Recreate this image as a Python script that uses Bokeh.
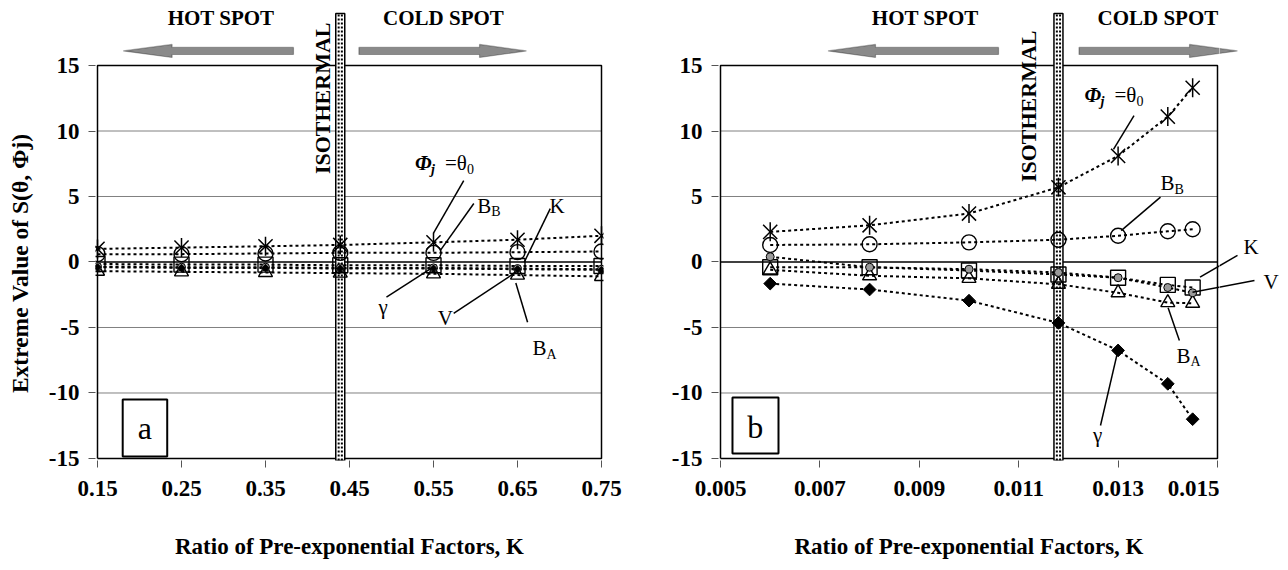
import numpy as np
from bokeh.plotting import figure
from bokeh.layouts import row
from bokeh.models import Range1d, FixedTicker, NumeralTickFormatter, Label, PolyAnnotation, Arrow
from bokeh.embed import file_html
from bokeh.resources import INLINE

# ---------------- data ----------------
y_ticks = [-15, -10, -5, 0, 5, 10, 15]

left_ticks = [0.15, 0.25, 0.35, 0.45, 0.55, 0.65, 0.75]
left_k = [0.15, 0.25, 0.35, 0.439, 0.55, 0.65, 0.75]
left_phi = [1.0, 1.1, 1.2, 1.3, 1.5, 1.7, 2.0]
left_bb = [0.6, 0.6, 0.65, 0.7, 0.7, 0.75, 0.8]
left_kk = [-0.15, -0.2, -0.2, -0.25, -0.25, -0.3, -0.3]
left_v = [-0.35, -0.4, -0.4, -0.45, -0.45, -0.5, -0.55]
left_gamma = [-0.4, -0.45, -0.45, -0.5, -0.5, -0.55, -0.6]
left_ba = [-0.7, -0.75, -0.8, -0.85, -0.9, -1.0, -1.1]
left_iso = 0.439

right_ticks = [0.005, 0.007, 0.009, 0.011, 0.013, 0.015]
right_k = [0.006, 0.008, 0.010, 0.0118, 0.013, 0.014, 0.0145]
right_phi = [2.3, 2.8, 3.7, 5.7, 8.1, 11.1, 13.3]
right_bb = [1.3, 1.35, 1.5, 1.7, 2.0, 2.35, 2.5]
right_kk = [-0.4, -0.4, -0.65, -0.95, -1.2, -1.75, -1.95]
right_v = [0.4, -0.4, -0.55, -0.8, -1.2, -1.95, -2.35]
right_gamma = [-1.65, -2.1, -2.95, -4.65, -6.75, -9.3, -12.0]
right_ba = [-0.6, -1.05, -1.25, -1.7, -2.35, -3.1, -3.15]
right_iso = 0.0118

SERIF = "Liberation Serif"
Y0, Y1 = -15.153, 19.962


def make_fig(width, x0, x1, bl, br, xticks, fmt):
    p = figure(width=width, height=570, x_range=Range1d(x0, x1), y_range=Range1d(Y0, Y1),
               output_backend="svg", toolbar_location=None,
               min_border_left=bl, min_border_right=br, min_border_top=0, min_border_bottom=110)
    p.outline_line_color = None
    p.xgrid.visible = False
    p.ygrid.visible = False
    ax = p.xaxis[0]
    ax.ticker = FixedTicker(ticks=xticks)
    ax.formatter = NumeralTickFormatter(format=fmt)
    ay = p.yaxis[0]
    ay.ticker = FixedTicker(ticks=y_ticks)
    ay.formatter = NumeralTickFormatter(format="0")
    for a in (ax, ay):
        a.axis_line_color = None
        a.major_tick_out = 7
        a.major_tick_in = 0
        a.minor_tick_line_color = None
        a.major_tick_line_color = "#555555"
        a.major_tick_line_width = 1
        a.major_label_text_font = SERIF
        a.major_label_text_font_style = "bold"
        a.major_label_text_font_size = "23px"
        a.major_label_text_color = "black"
        a.axis_label_text_font = SERIF
        a.axis_label_text_font_style = "bold"
        a.axis_label_text_font_size = "23px"
        a.axis_label_text_color = "black"
    ax.major_label_standoff = 13
    ax.axis_label = "Ratio of Pre-exponential Factors, K"
    ax.axis_label_standoff = 35
    ay.major_label_standoff = 9
    return p


def blank_fig(width, x0, x1, y0, y1, bottom):
    p = figure(width=width, height=570, x_range=Range1d(x0, x1), y_range=Range1d(y0, y1),
               output_backend="svg", toolbar_location=None, x_axis_location=None, y_axis_location=None,
               min_border_left=0, min_border_right=0, min_border_top=0, min_border_bottom=bottom)
    p.outline_line_color = None
    p.grid.visible = False
    return p


def furniture(p, bx0, bx1, iso, px):
    for yv in y_ticks[1:-1]:
        if yv == 0:
            p.segment(x0=[bx0], y0=[yv], x1=[bx1], y1=[yv], line_color="black", line_width=1.3)
        else:
            p.segment(x0=[bx0], y0=[yv], x1=[bx1], y1=[yv], line_color="#808080", line_width=1)
    p.line(x=[bx0, bx1, bx1, bx0, bx0], y=[-15, -15, 15, 15, -15], line_color="black", line_width=1.5)
    hw = 4.5 * px
    p.quad(left=[iso - hw], right=[iso + hw], bottom=[Y0], top=[18.97],
           fill_color="white", line_color="black", line_width=1.5)
    for dx in (-1.6 * px, 1.6 * px):
        p.segment(x0=[iso + dx], y0=[Y0], x1=[iso + dx], y1=[18.97],
                  line_color="black", line_width=2, line_dash="2 2")


def series(p, xs, phi, bb, kk, v, gam, ba, gs):
    for ys in (phi, bb, kk, v, gam, ba):
        p.line(x=xs, y=ys, line_color="black", line_width=2, line_dash="3 3")
    p.scatter(x=xs, y=phi, marker="x", size=20, line_color="black", line_width=1.5)
    p.scatter(x=xs, y=phi, marker="dash", angle=np.pi / 2, size=19, line_color="black", line_width=1.5)
    p.scatter(x=xs, y=bb, marker="circle", size=15, fill_color=None, line_color="black", line_width=1.4)
    p.scatter(x=xs, y=ba, marker="triangle", size=14, fill_color=None, line_color="black", line_width=1.4)
    p.scatter(x=xs, y=kk, marker="square", size=15, fill_color=None, line_color="black", line_width=1.4)
    p.scatter(x=xs, y=v, marker="circle", size=8, fill_color="#9a9a9a", line_color="black", line_width=1)
    p.scatter(x=xs, y=gam, marker="square", angle=np.pi / 4, size=gs, fill_color="black", line_color="black")


def lab(figs, x, y, text, size=21, style="normal", align="left", dx=0, dy=0, angle=0):
    for p in figs:
        p.add_layout(Label(x=x, y=y, text=text, text_font=SERIF, text_font_size=f"{size}px",
                           text_font_style=style, text_align=align, text_baseline="middle",
                           x_offset=dx, y_offset=dy, angle=angle, text_color="black"))


def sub_lab(figs, x, y, main, sub, mw):
    lab(figs, x, y, main)
    lab(figs, x, y, sub, size=14, dx=mw, dy=-6)


def phi_lab(figs, x, y):
    lab(figs, x, y, "Φ", style="bold italic")
    lab(figs, x, y, "j", size=14, style="bold italic", dx=16, dy=-6)
    lab(figs, x, y, "=θ", dx=30)
    lab(figs, x, y, "0", size=14, dx=52, dy=-6)


def leader(figs, xa, ya, xb, yb):
    for p in figs:
        p.add_layout(Arrow(x_start=xa, y_start=ya, x_end=xb, y_end=yb, end=None,
                           line_color="black", line_width=1.5))


def block_arrow(figs, tail, base, tip, yc=16.11, hs=0.27, hh=0.5):
    for p in figs:
        p.add_layout(PolyAnnotation(xs=[tail, base, base, tip, base, base, tail],
                                    ys=[yc - hs, yc - hs, yc - hh, yc, yc + hh, yc + hs, yc + hs],
                                    fill_color="#8a8a8a", fill_alpha=1.0,
                                    line_color="black", line_width=1.2))


# ---------------- y-axis title strip (frame aligned with the panels) ----------------
p0 = blank_fig(40, 0, 40, Y0, Y1, 110)
lab([p0], 19, -0.1, "Extreme Value of S(θ, Φj)", size=23.5, style="bold", align="center", angle=np.pi / 2)

# ---------------- left panel ----------------
pxl = 1 / 840.0
p1 = make_fig(600, 0.15 - 2 * pxl, 0.75 + 2 * pxl, 55, 37, left_ticks, "0.00")
furniture(p1, 0.15, 0.75, left_iso, pxl)
series(p1, left_k, left_phi, left_bb, left_kk, left_v, left_gamma, left_ba, 5)
L = [p1]
lab(L, 0.2971, 18.59, "HOT SPOT", size=21, style="bold", align="center")
lab(L, 0.5619, 18.59, "COLD SPOT", size=21, style="bold", align="center")
block_arrow(L, 0.3833, 0.2388, 0.1806)
block_arrow(L, 0.4612, 0.6048, 0.6607)
lab(L, 0.4184, 18.28, "ISOTHERMAL", size=22, style="bold", align="right", angle=np.pi / 2)

phi_lab(L, 0.528, 7.52)
leader(L, 0.586, 6.22, 0.55, 2.2)
sub_lab(L, 0.602, 4.31, "B", "B", 14)
leader(L, 0.598, 4.47, 0.558, 0.87)
lab(L, 0.688, 4.31, "K")
leader(L, 0.689, 4.08, 0.658, -0.02)
lab(L, 0.49, -3.45, "γ", align="center")
leader(L, 0.494, -2.69, 0.55, -0.38)
lab(L, 0.564, -4.31, "V", align="center")
leader(L, 0.574, -3.93, 0.648, -0.78)
sub_lab(L, 0.668, -6.6, "B", "A", 14)
leader(L, 0.662, -4.6, 0.648, -1.6)

p1.quad(left=[0.18], right=[0.233], bottom=[-14.85], top=[-10.5], fill_color="white",
        line_color="black", line_width=2)
lab(L, 0.2065, -12.7, "a", size=32, align="center")

# ---------------- right panel (+ thin continuation strip) ----------------
pxr = 1 / 49700.0
xr1 = 0.015 + 2 * pxr
p2 = make_fig(579, 0.005 - 2 * pxr, xr1, 78, 0, right_ticks, "0.000")
p3 = blank_fig(69, xr1, xr1 + 69 * pxr, Y0, Y1, 110)

furniture(p2, 0.005, 0.015, right_iso, pxr)
series(p2, right_k, right_phi, right_bb, right_kk, right_v, right_gamma, right_ba, 9)
R = [p2]
RR = [p2, p3]
lab(R, 0.009119, 18.59, "HOT SPOT", size=21, style="bold", align="center")
lab(R, 0.0138, 18.59, "COLD SPOT", size=21, style="bold", align="center")
block_arrow(R, 0.010594, 0.008119, 0.007163)
block_arrow(RR, 0.012213, 0.014437, 0.015402)
lab(R, 0.011197, 17.67, "ISOTHERMAL", size=22, style="bold", align="right", angle=np.pi / 2)

phi_lab(R, 0.012324, 12.71)
leader(R, 0.01332, 11.18, 0.012907, 8.6)
sub_lab(R, 0.013853, 6.0, "B", "B", 14)
leader(R, 0.013853, 4.95, 0.013062, 2.4)
lab([p3], 0.015523, 1.13, "K")
leader(RR, 0.015402, 0.5, 0.014648, -1.16)
lab([p3], 0.015926, -1.54, "V")
leader(RR, 0.015744, -1.41, 0.014497, -2.31)
sub_lab(R, 0.014175, -7.14, "B", "A", 14)
leader(R, 0.014006, -3.5, 0.014233, -5.99)
lab(R, 0.012586, -13.24, "γ", align="center")
leader(R, 0.012988, -6.9, 0.012646, -12.48)

p2.quad(left=[0.005241], right=[0.006167], bottom=[-14.62], top=[-10.34], fill_color="white",
        line_color="black", line_width=2)
lab(R, 0.0057, -12.6, "b", size=32, align="center")

layout = row(p0, p1, p2, p3)
open("out.html", "w").write(file_html(layout, INLINE))
